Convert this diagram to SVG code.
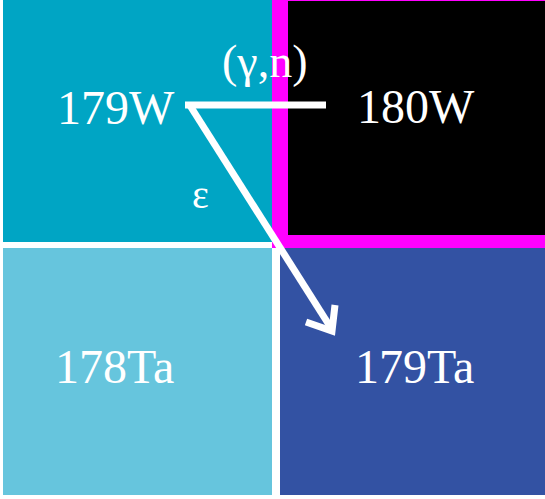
<svg xmlns="http://www.w3.org/2000/svg" width="545" height="499" viewBox="0 0 545 499">
<style>
.lbl{font-family:"Liberation Serif","Times New Roman",serif;fill:#ffffff;font-size:48px}
.sm{font-family:"Liberation Serif","Times New Roman",serif;fill:#ffffff}
.wl{stroke:#ffffff;stroke-width:7;fill:none;stroke-linecap:butt}
</style>
<rect x="0" y="0" width="545" height="499" fill="#ffffff"/>
<g id="n179W">
<rect x="3" y="0" width="269" height="242" fill="#00A5C4"/>
<text class="lbl" x="57" y="124">179W</text>
</g>
<g id="n180W">
<rect x="272" y="0" width="273" height="248" fill="#FF00FF"/>
<rect x="288" y="1" width="257" height="234" fill="#000000"/>
<text class="lbl" x="357" y="123">180W</text>
</g>
<g id="n178Ta">
<rect x="3" y="248" width="269" height="247" fill="#66C5DD"/>
<text class="lbl" x="55" y="383">178Ta</text>
</g>
<g id="n179Ta">
<rect x="280" y="248" width="265" height="247" fill="#3352A3"/>
<text class="lbl" x="355" y="383">179Ta</text>
</g>
<g id="connectors">
<line class="wl" x1="185" y1="105" x2="326" y2="105"/>
<line class="wl" x1="189" y1="104" x2="331" y2="328"/>
<polyline class="wl" points="306,322 332,331 335,305" stroke-linejoin="miter"/>
<text class="sm" x="222" y="77" font-size="46">(γ,n)</text>
<text class="sm" x="192" y="208" font-size="40">ε</text>
</g>
</svg>
